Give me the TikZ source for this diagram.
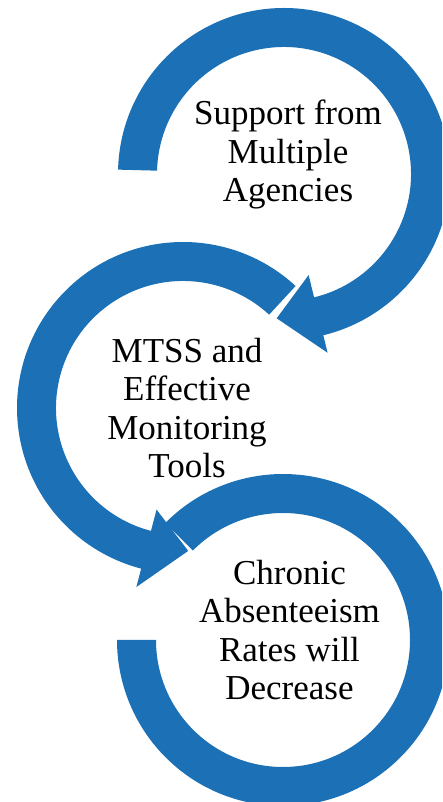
\documentclass[tikz,border=0pt]{standalone}
\usepackage{fontspec}
\setmainfont{Liberation Serif}
\usetikzlibrary{calc}
\definecolor{ringblue}{RGB}{27,112,182}
\begin{document}
\begin{tikzpicture}[x=1pt,y=1pt,
  ring/.style={fill=ringblue},
  label/.style={align=center,anchor=base,inner sep=0pt,
    font=\fontsize{35}{38.5}\selectfont}]
\useasboundingbox (0,0) rectangle (442,802);
\clip (0,0) rectangle (442,802);
% ring centres
\coordinate (T) at (284,628);
\coordinate (M) at (183,394);
\coordinate (B) at (283,162);
% first ring: flat start on the left, clockwise, head at the bottom
\fill[ring] ($(T)+(178.5:166)$) arc[start angle=178.5, end angle=-76.3, radius=166]
  -- ($(T)+(-76.3:184)$) -- ($(T)+(-92.9:144.5)$) -- ($(T)+(-76.3:104)$)
  -- ($(T)+(-76.3:127)$) arc[start angle=-76.3, end angle=178.5, radius=127] -- cycle;
% second ring: starts upper right, anticlockwise, head at the bottom
\fill[ring] ($(M)+(47.3:166)$) arc[start angle=47.3, end angle=255.4, radius=166]
  -- ($(M)+(255.4:185)$) -- ($(M)+(272.1:143)$) -- ($(M)+(255.4:105)$)
  -- ($(M)+(255.4:127)$) arc[start angle=255.4, end angle=47.3, radius=127] -- cycle;
% captions (base anchor sits on the last line)
\node[label] (t1) at (288,600.3) {Support from\\Multiple\\Agencies};
\node[label] (t2) at (187,324) {MTSS and\\Effective\\Monitoring\\Tools};
% third ring: starts upper left, clockwise, flat end on the left
\fill[ring] ($(B)+(135.2:166)$) arc[start angle=135.2, end angle=-180, radius=166]
  -- ($(B)+(180:127)$) arc[start angle=-180, end angle=135.2, radius=127] -- cycle;
\node[label] (t3) at (289.5,102) {Chronic\\Absenteeism\\Rates will\\Decrease};
\end{tikzpicture}
\end{document}
